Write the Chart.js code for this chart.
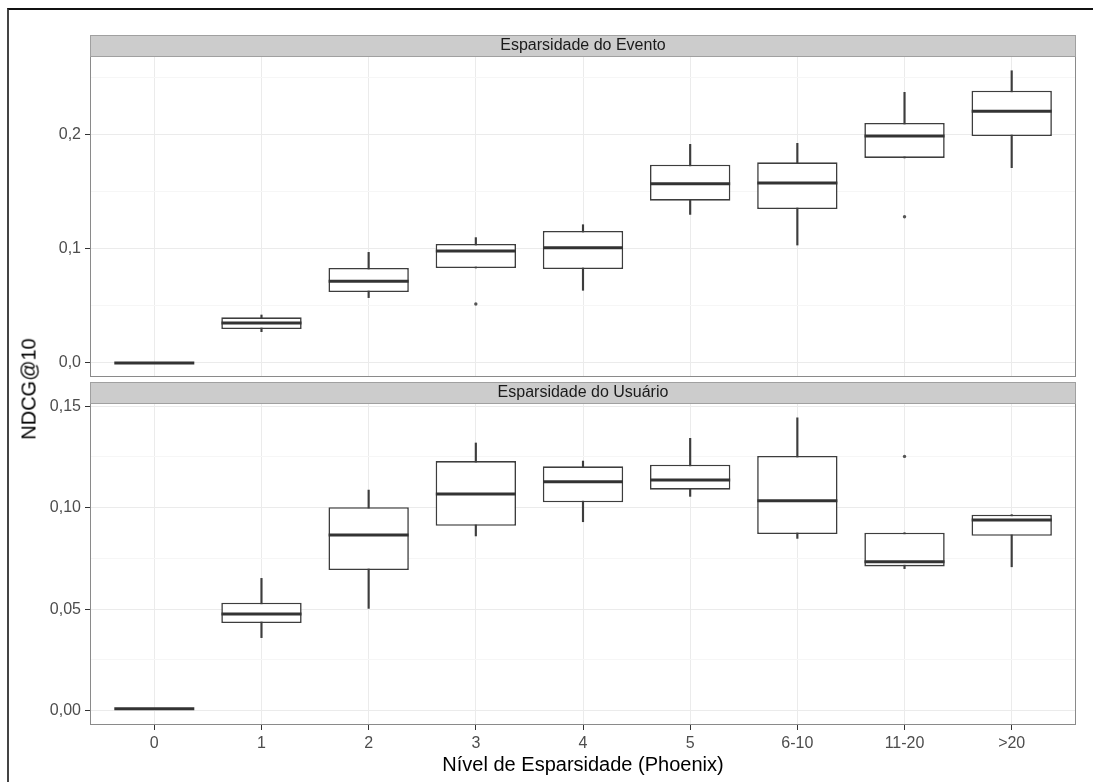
<!DOCTYPE html>
<html>
<head>
<meta charset="utf-8">
<script src="https://cdn.jsdelivr.net/npm/chart.js@4.4.0/dist/chart.umd.min.js"></script>
<style>
  body { margin: 0; background: #fff; }
  #wrap { position: relative; width: 1093px; height: 782px; overflow: hidden; font-family: "Liberation Sans", Arial, sans-serif; }
  #frame { position: absolute; left: 7px; top: 8px; right: -4px; bottom: -4px; border-top: 2px solid #111; border-left: 2px solid #444; }
  canvas { position: absolute; left: 0; }
  #ytitle { position: absolute; left: 29px; top: 389px; transform: translate(-50%, -50%) rotate(-90deg); font-size: 20px; white-space: nowrap; color: #000; }
</style>
</head>
<body>
<div id="wrap">
  <div id="frame"></div>
  <canvas id="topChart" width="1093" height="380" style="top:0"></canvas>
  <canvas id="bottomChart" width="1093" height="402" style="top:380px"></canvas>
  <div id="ytitle">NDCG@10</div>
</div>
<script>
const categories = ['0', '1', '2', '3', '4', '5', '6-10', '11-20', '>20'];

// Esparsidade do Evento
const eventoLow  = [0, 0.0274, 0.0572, 0.0831, 0.0636, 0.130, 0.1032, 0.1794, 0.1709];
const eventoQ1   = [0, 0.0297, 0.0621, 0.0831, 0.0822, 0.142, 0.1347, 0.1794, 0.1986];
const eventoMed  = [0, 0.0350, 0.0715, 0.0980, 0.1009, 0.1569, 0.1575, 0.1986, 0.2202];
const eventoQ3   = [0, 0.0400, 0.0831, 0.1041, 0.1155, 0.1735, 0.1756, 0.2100, 0.2382];
const eventoHigh = [0, 0.0420, 0.0968, 0.1097, 0.1210, 0.1913, 0.1922, 0.2368, 0.2557];
const eventoOutX = [3, 7];
const eventoOutY = [0.0516, 0.128];

// Esparsidade do Usuário
const usuarioLow  = [0.001, 0.0360, 0.0504, 0.0861, 0.0931, 0.1056, 0.0849, 0.0700, 0.0709];
const usuarioQ1   = [0.001, 0.0432, 0.0693, 0.0911, 0.1027, 0.1089, 0.0870, 0.0711, 0.0862];
const usuarioMed  = [0.001, 0.0476, 0.0866, 0.1068, 0.1128, 0.1137, 0.1034, 0.0734, 0.0939];
const usuarioQ3   = [0.001, 0.0532, 0.1003, 0.1230, 0.1204, 0.1212, 0.1255, 0.0877, 0.0966];
const usuarioHigh = [0.001, 0.0652, 0.1087, 0.1319, 0.1230, 0.1342, 0.1443, 0.0877, 0.0966];
const usuarioOutX = [7];
const usuarioOutY = [0.1253];

const FONT = '"Liberation Sans", Arial, sans-serif';
const LINE = '#3d3d3d';

const isMajor = (v, step) => Math.abs(v / step - Math.round(v / step)) < 1e-6;
const comma = (v, d) => v.toFixed(d).replace('.', ',');

// panel border + grey facet strip on top of the plot area
const facetStrip = {
  id: 'facetStrip',
  afterDraw(chart, args, opts) {
    const { ctx, chartArea: a } = chart;
    const w = a.right - a.left;
    ctx.save();
    ctx.strokeStyle = '#8a8a8a';
    ctx.lineWidth = 1;
    ctx.strokeRect(a.left + 0.5, a.top + 0.5, w - 1, a.bottom - a.top - 1);
    ctx.fillStyle = '#cccccc';
    ctx.fillRect(a.left, a.top - 21, w, 21);
    ctx.strokeStyle = '#a0a0a0';
    ctx.strokeRect(a.left + 0.5, a.top - 20.5, w - 1, 21);
    ctx.fillStyle = '#1a1a1a';
    ctx.font = '16px ' + FONT;
    ctx.textAlign = 'center';
    ctx.textBaseline = 'middle';
    ctx.fillText(opts.text, (a.left + a.right) / 2, a.top - 10);
    ctx.restore();
  }
};

function boxDatasets(low, q1, med, q3, high, outX, outY) {
  return [
    {
      type: 'bar',
      data: categories.map((c, i) => ({ x: i, y: [low[i], high[i]] })),
      backgroundColor: LINE,
      barThickness: 1.5,
      grouped: false,
      order: 3
    },
    {
      type: 'bar',
      data: categories.map((c, i) => ({ x: i, y: [q1[i], q3[i]] })),
      backgroundColor: '#ffffff',
      borderColor: LINE,
      borderWidth: 1.6,
      borderSkipped: false,
      grouped: false,
      categoryPercentage: 1,
      barPercentage: 0.75,
      order: 2
    },
    {
      type: 'line',
      data: categories.map((c, i) => ({ x: i, y: med[i] })),
      showLine: false,
      pointStyle: 'line',
      pointRadius: 40,
      pointBorderWidth: 3,
      pointBorderColor: '#333333',
      order: 1
    },
    {
      type: 'line',
      data: outX.map((x, i) => ({ x: x, y: outY[i] })),
      showLine: false,
      pointRadius: 1.7,
      pointBackgroundColor: '#555555',
      pointBorderWidth: 0,
      order: 0
    }
  ];
}

function makeChart(id, cfg) {
  return new Chart(document.getElementById(id), {
    type: 'bar',
    data: { datasets: cfg.datasets },
    options: {
      responsive: false,
      animation: false,
      devicePixelRatio: 1,
      events: [],
      layout: { padding: cfg.padding, autoPadding: false },
      plugins: {
        legend: { display: false },
        tooltip: { enabled: false },
        facetStrip: { text: cfg.strip }
      },
      scales: {
        x: {
          type: 'linear',
          min: -0.6,
          max: 8.6,
          offset: false,
          afterFit: s => { s.height = cfg.xHeight; },
          ticks: {
            display: cfg.showX,
            stepSize: 1,
            includeBounds: false,
            autoSkip: false,
            maxRotation: 0,
            padding: 4,
            color: '#4d4d4d',
            font: { size: 16, family: FONT },
            callback: v => categories[v] ?? ''
          },
          grid: {
            offset: false,
            color: '#ebebeb',
            drawTicks: cfg.showX,
            tickLength: 5,
            tickColor: '#333333'
          },
          border: { display: false },
          title: {
            display: cfg.showX,
            text: 'Nível de Esparsidade (Phoenix)',
            color: '#000',
            font: { size: 20, family: FONT },
            padding: { top: 0, bottom: 5 }
          }
        },
        y: {
          min: cfg.yMin,
          max: cfg.yMax,
          afterFit: s => { s.width = 90; s.paddingTop = 0; s.paddingBottom = 0; },
          ticks: {
            stepSize: cfg.minorStep,
            includeBounds: false,
            padding: 4,
            color: '#4d4d4d',
            font: { size: 16, family: FONT },
            callback: v => isMajor(v, cfg.majorStep) ? comma(v, cfg.digits) : ''
          },
          grid: {
            color: c => isMajor(c.tick.value, cfg.majorStep) ? '#ebebeb' : '#f6f6f6',
            tickColor: c => isMajor(c.tick.value, cfg.majorStep) ? '#333333' : 'rgba(0,0,0,0)',
            tickLength: 5
          },
          border: { display: false }
        }
      }
    },
    plugins: [facetStrip]
  });
}

makeChart('topChart', {
  strip: 'Esparsidade do Evento',
  datasets: boxDatasets(eventoLow, eventoQ1, eventoMed, eventoQ3, eventoHigh, eventoOutX, eventoOutY),
  padding: { top: 56, right: 17, bottom: 3, left: 0 },
  xHeight: 0,
  showX: false,
  yMin: -0.01225,
  yMax: 0.2686,
  minorStep: 0.05,
  majorStep: 0.1,
  digits: 1
});

makeChart('bottomChart', {
  strip: 'Esparsidade do Usuário',
  datasets: boxDatasets(usuarioLow, usuarioQ1, usuarioMed, usuarioQ3, usuarioHigh, usuarioOutX, usuarioOutY),
  padding: { top: 23, right: 17, bottom: 0, left: 0 },
  xHeight: 57,
  showX: true,
  yMin: -0.00704,
  yMax: 0.1516,
  minorStep: 0.025,
  majorStep: 0.05,
  digits: 2
});
</script>
</body>
</html>
